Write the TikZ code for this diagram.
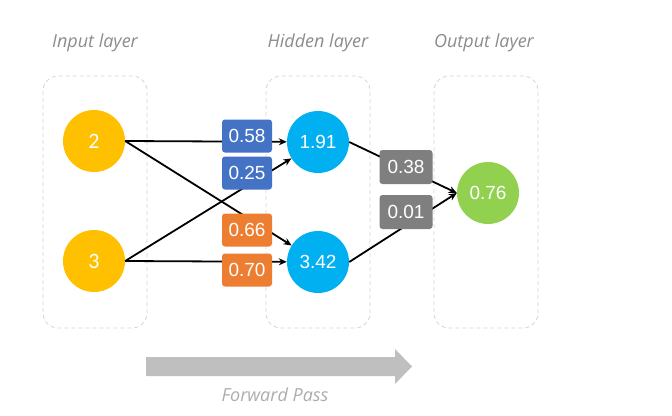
\documentclass[tikz,border=0pt]{standalone}
\usepackage{fontspec}
\setmainfont{Liberation Sans}
\newfontfamily\numfont{Carlito}
\newfontfamily\labfont{Open Sans}
\usetikzlibrary{arrows.meta}
\definecolor{wblue}{HTML}{4472C4}
\definecolor{worange}{HTML}{ED7D31}
\definecolor{wgray}{HTML}{7F7F7F}
\definecolor{nyellow}{HTML}{FFC000}
\definecolor{ncyan}{HTML}{00B0F0}
\definecolor{ngreen}{HTML}{92D050}
\definecolor{framegray}{HTML}{D4D4D4}
\definecolor{labelgray}{HTML}{8C8C8C}
\definecolor{passgray}{HTML}{BFBFBF}
\tikzset{
  layerbox/.style={draw=framegray, dashed, dash pattern=on 4pt off 3pt, line width=0.8pt, rounded corners=15pt},
  neuron/.style={circle, minimum size=62pt, inner sep=0pt, text=white, font=\fontsize{19}{19}\selectfont},
  inneuron/.style={neuron, fill=nyellow, font=\numfont\fontsize{22}{22}\selectfont},
  weight/.style={rounded corners=3pt, minimum width=50pt, minimum height=33pt, inner sep=0pt, text=white, font=\fontsize{19}{19}\selectfont},
  link/.style={line width=1.8pt, -{Stealth[length=8pt,width=7pt]}},
  layerlabel/.style={text=labelgray, font=\labfont\itshape\fontsize{18}{18}\selectfont},
}
\begin{document}
\begin{tikzpicture}[x=1pt,y=-1pt]
\useasboundingbox (0,0) rectangle (672,415);

% layer frames
\draw[layerbox] (43,76) rectangle (147,328);
\draw[layerbox] (266,76) rectangle (370,328);
\draw[layerbox] (434,76) rectangle (538,328);

% layer captions
\node[layerlabel] (tin) at (95,43) {Input layer};
\node[layerlabel] (thid) at (318,43) {Hidden layer};
\node[layerlabel] (tout) at (484,43) {Output layer};

% neurons
\node[inneuron] (i1) at (94,141) {2};
\node[inneuron] (i2) at (94,261) {3};
\node[neuron, fill=ncyan] (h1) at (318,142) {1.91};
\node[neuron, fill=ncyan] (h2) at (318,262) {3.42};
\node[neuron, fill=ngreen] (o1) at (488,193) {0.76};

% connections: each leaves the east side of its source
\draw[link] (i1.east) -- (h1);
\draw[link] (i1.east) -- (h2);
\draw[link] (i2.east) -- (h1);
\draw[link] (i2.east) -- (h2);
\draw[link] (h1.east) -- (o1.west);
\draw[link] (h2.east) -- (o1.west);

% weights
\node[weight, fill=wblue] (w11) at (247,136) {0.58};
\node[weight, fill=wblue] (w21) at (247,173) {0.25};
\node[weight, fill=worange] (w12) at (247,230) {0.66};
\node[weight, fill=worange] (w22) at (247,270) {0.70};
\node[weight, fill=wgray, minimum width=53pt, minimum height=34pt] (v1) at (406,167) {0.38};
\node[weight, fill=wgray, minimum width=53pt, minimum height=34pt] (v2) at (406,212) {0.01};

% direction of the pass
\fill[passgray] (146,357) -- (395,357) -- (395,349) -- (412,366.5) -- (395,384) -- (395,376) -- (146,376) -- cycle;
\node[layerlabel, text=passgray!90!black] (tpass) at (275,395) {Forward Pass};
\end{tikzpicture}
\end{document}
